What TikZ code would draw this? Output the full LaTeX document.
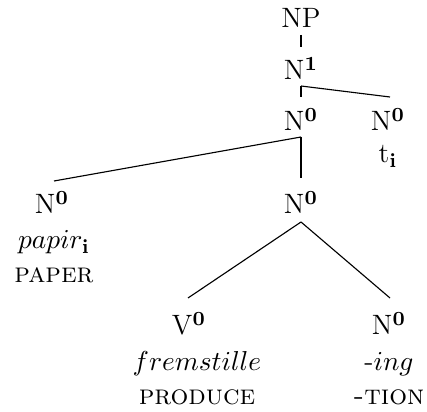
\documentclass[tikz,border=0pt]{standalone}
\begin{document}
\begin{tikzpicture}[x=0.4pt,y=-0.4pt,
  lab/.style={anchor=base,inner sep=0pt,font=\fontsize{11.2}{13}\selectfont},
  br/.style={line width=0.45pt}]
\useasboundingbox (0,0) rectangle (427,412);
% labels
\node[lab] (np) at (301,28) {NP};
\node[lab] (n1) at (301,80) {N$^{\mathbf{1}}$};
\node[lab] (n0a) at (301,131) {N$^{\mathbf{0}}$};
\node[lab] (n0b) at (388,131) {N$^{\mathbf{0}}$};
\node[lab] (ti) at (388,163) {t$_{\mathbf{i}}$};
\node[lab] (n0c) at (52,214) {N$^{\mathbf{0}}$};
\node[lab] (papir) at (54,249) {$papir_{\mathbf{i}}$};
\node[lab] (paper) at (54,283) {\textsc{paper}};
\node[lab] (n0d) at (301,214) {N$^{\mathbf{0}}$};
\node[lab] (v0) at (189,335) {V$^{\mathbf{0}}$};
\node[lab] (frem) at (197,371) {$fremstille$};
\node[lab] (prod) at (197,405) {\textsc{produce}};
\node[lab] (n0e) at (389,335) {N$^{\mathbf{0}}$};
\node[lab] (ing) at (389,371) {-$ing$};
\node[lab] (tion) at (389,405) {\textsc{-tion}};
% connector end points
\coordinate (np-b) at (301,35);
\coordinate (n1-t) at (301,47);
\coordinate (n1-b) at (301,86);
\coordinate (n0a-t) at (301,97);
\coordinate (n0b-t) at (390,97);
\coordinate (n0a-b) at (301,137);
\coordinate (n0c-t) at (54,181);
\coordinate (n0d-t) at (301,178);
\coordinate (n0d-b) at (301,222);
\coordinate (v0-t) at (188,298);
\coordinate (n0e-t) at (390,298);
% connectors
\draw[br] (np-b) -- (n1-t);
\draw[br] (n1-b) -- (n0a-t);
\draw[br] (n1-b) -- (n0b-t);
\draw[br] (n0a-b) -- (n0c-t);
\draw[br] (n0a-b) -- (n0d-t);
\draw[br] (n0d-b) -- (v0-t);
\draw[br] (n0d-b) -- (n0e-t);
\end{tikzpicture}
\end{document}
